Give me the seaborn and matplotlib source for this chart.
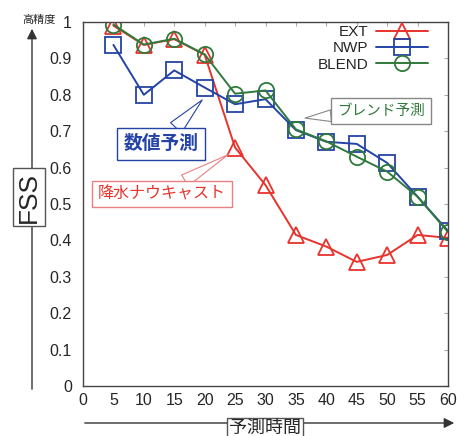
import numpy as np
import pandas as pd
import matplotlib
matplotlib.use('Agg')
import matplotlib.pyplot as plt
import seaborn as sns

# lead time (minutes) and FSS values
lead_time = [5, 10, 15, 20, 25, 30, 35, 40, 45, 50, 55, 60]
fss_ext = [0.99, 0.937, 0.953, 0.91, 0.655, 0.552, 0.415, 0.383, 0.341, 0.36, 0.415, 0.407]
fss_nwp = [0.937, 0.80, 0.867, 0.82, 0.774, 0.788, 0.703, 0.671, 0.665, 0.613, 0.52, 0.426]
fss_blend = [0.993, 0.938, 0.954, 0.911, 0.803, 0.812, 0.705, 0.672, 0.63, 0.589, 0.52, 0.423]

x_ticks = list(range(0, 61, 5))
y_ticks = [0, 0.1, 0.2, 0.3, 0.4, 0.5, 0.6, 0.7, 0.8, 0.9, 1]

sns.set_style('white')
plt.rcParams['font.family'] = ['Liberation Sans', 'Noto Sans CJK JP', 'DejaVu Sans']

red = '#e8322c'
blue = '#2443a6'
green = '#2f7a3a'

fig = plt.figure(figsize=(4.65, 4.36), dpi=100)
ax = fig.add_axes([83 / 465, 50 / 436, 365 / 465, 364 / 436])

sns.lineplot(x=lead_time, y=fss_ext, ax=ax, color=red, marker='^', markersize=11,
             markerfacecolor='none', markeredgecolor=red, markeredgewidth=1.3, lw=1.4, label='EXT')
sns.lineplot(x=lead_time, y=fss_nwp, ax=ax, color=blue, marker='s', markersize=11,
             markerfacecolor='none', markeredgecolor=blue, markeredgewidth=1.3, lw=1.4, label='NWP')
sns.lineplot(x=lead_time, y=fss_blend, ax=ax, color=green, marker='o', markersize=11,
             markerfacecolor='none', markeredgecolor=green, markeredgewidth=1.3, lw=1.4, label='BLEND')

ax.set_xlim(0, 60)
ax.set_ylim(0, 1)
ax.set_xticks(x_ticks)
ax.set_yticks(y_ticks)
ax.set_yticklabels([f'{v:g}' for v in y_ticks])
ax.tick_params(direction='in', length=3, color='#aaaaaa', labelsize=11.5,
               top=True, right=True)
ax.tick_params(axis='y', pad=8)
ax.tick_params(axis='x', pad=5)
for s in ax.spines.values():
    s.set_color('#444444')
    s.set_linewidth(1.0)
ax.set_xlabel('')
ax.set_ylabel('')

leg = ax.legend(loc='upper right', bbox_to_anchor=(428 / 465, 1 - 25 / 436),
                bbox_transform=fig.transFigure, frameon=False, markerfirst=False,
                fontsize=11, handlelength=3.4, labelspacing=0.15, handletextpad=0.5,
                borderaxespad=0, borderpad=0)

# callout boxes
ax.annotate('数値予測', xy=(19.6, 0.786), xytext=(12.8, 0.665), color=blue,
            fontsize=13.5, fontweight='bold', ha='center', va='center',
            bbox=dict(boxstyle='square,pad=0.35', fc='white', ec=blue, lw=1),
            arrowprops=dict(arrowstyle='wedge,tail_width=0.8', fc='white', ec=blue, lw=0.8,
                            shrinkA=0, shrinkB=0))
ax.annotate('降水ナウキャスト', xy=(23.8, 0.635), xytext=(13.0, 0.527), color=red,
            fontsize=11.5, ha='center', va='center',
            bbox=dict(boxstyle='square,pad=0.35', fc='white', ec='#e88080', lw=1),
            arrowprops=dict(arrowstyle='wedge,tail_width=0.8', fc='white', ec='#e88080', lw=0.8,
                            shrinkA=0, shrinkB=0))
ax.annotate('ブレンド予測', xy=(36.5, 0.736), xytext=(49.0, 0.755), color=green,
            fontsize=10.5, ha='center', va='center',
            bbox=dict(boxstyle='square,pad=0.4', fc='white', ec='#888888', lw=1),
            arrowprops=dict(arrowstyle='wedge,tail_width=0.8', fc='white', ec='#888888', lw=0.8,
                            shrinkA=0, shrinkB=0))

# y axis arrow with labels
fig.patches.append(matplotlib.patches.FancyArrowPatch(
    (32 / 465, 1 - 392 / 436), (32 / 465, 1 - 26 / 436), transform=fig.transFigure,
    arrowstyle='-|>,head_length=6,head_width=3', color='#333333', lw=1.0))
fig.text(39 / 465, 1 - 20 / 436, '高精度', fontsize=8, ha='center', va='center')
fig.text(29 / 465, 1 - 197 / 436, 'FSS', fontsize=19, rotation=90, ha='center', va='center',
         bbox=dict(boxstyle='square,pad=0.15', fc='white', ec='#555555', lw=1))

# x axis arrow with label
fig.patches.append(matplotlib.patches.FancyArrowPatch(
    (82 / 465, 1 - 423 / 436), (457 / 465, 1 - 423 / 436), transform=fig.transFigure,
    arrowstyle='-|>,head_length=6,head_width=3', color='#333333', lw=1.0))
fig.text(265 / 465, 1 - 428 / 436, '予測時間', fontsize=13, ha='center', va='center',
         bbox=dict(boxstyle='square,pad=0.1', fc='white', ec='#555555', lw=1))

fig.savefig('out.png', dpi=100)
